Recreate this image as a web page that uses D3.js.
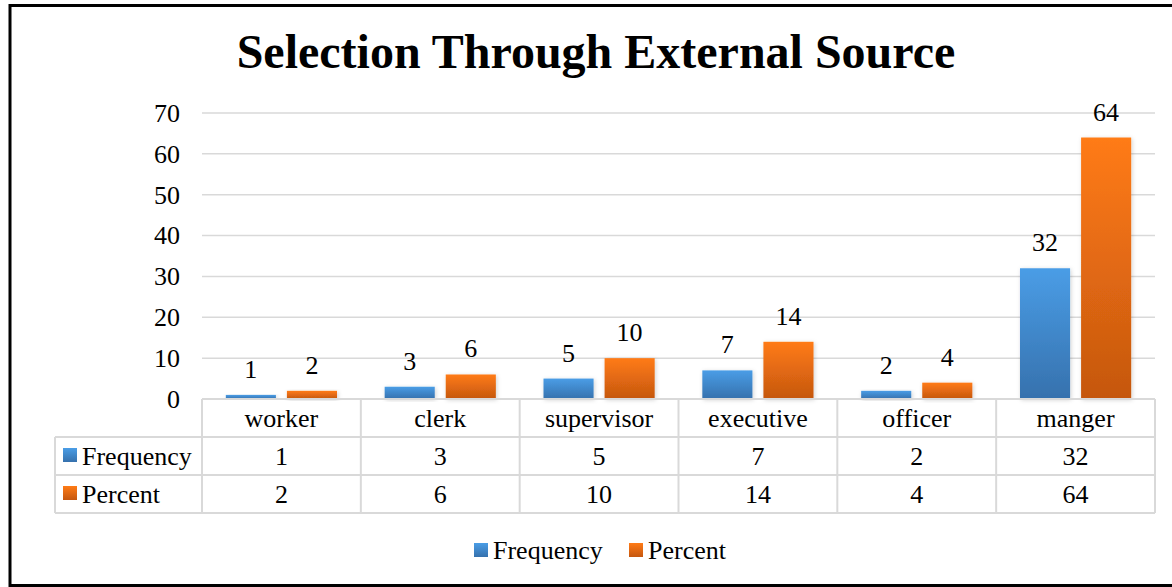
<!DOCTYPE html>
<html>
<head>
<meta charset="utf-8">
<script src="https://cdn.jsdelivr.net/npm/d3@7"></script>
<style>
  html, body { margin: 0; padding: 0; background: #fff; }
  svg { display: block; }
  text { font-family: "Liberation Serif", "Times New Roman", serif; fill: #000; }
</style>
</head>
<body>
<svg id="chart" width="1172" height="587"></svg>
<script>
// Chart data
const categories = ["worker", "clerk", "supervisor", "executive", "officer", "manger"];
const frequency = [1, 3, 5, 7, 2, 32];
const percent = [2, 6, 10, 14, 4, 64];
const seriesNames = ["Frequency", "Percent"];
const yTicks = [0, 10, 20, 30, 40, 50, 60, 70];
const titleText = "Selection Through External Source";

const W = 1172, H = 587;
const svg = d3.select("#chart");

// Frame
svg.append("rect")
  .attr("x", 10).attr("y", 5.5)
  .attr("width", W + 10).attr("height", 580)
  .attr("fill", "#fff").attr("stroke", "#000").attr("stroke-width", 3);

// Gradients and shadow
const defs = svg.append("defs");
const gradSpecs = [
  { id: "g-freq", top: "#4a9de6", bottom: "#3671ad" },
  { id: "g-pct", top: "#ff7b16", bottom: "#c5570f" }
];
gradSpecs.forEach(g => {
  const lg = defs.append("linearGradient").attr("id", g.id)
    .attr("x1", 0).attr("y1", 0).attr("x2", 0).attr("y2", 1);
  lg.append("stop").attr("offset", "0%").attr("stop-color", g.top);
  lg.append("stop").attr("offset", "100%").attr("stop-color", g.bottom);
});
const f = defs.append("filter").attr("id", "shadow")
  .attr("x", "-20%").attr("y", "-20%").attr("width", "140%").attr("height", "140%");
f.append("feDropShadow").attr("dx", 1).attr("dy", 1).attr("stdDeviation", 2)
  .attr("flood-color", "#000").attr("flood-opacity", 0.18);

// Scales
const plotLeft = 202, plotRight = 1155, plotTop = 113, plotBottom = 399;
const x0 = d3.scaleBand().domain(categories).range([plotLeft, plotRight]).padding(0);
const x1 = d3.scaleBand().domain(seriesNames).range([0, x0.bandwidth()])
  .paddingInner(0.18).paddingOuter(0.39);
const y = d3.scaleLinear().domain([0, 70]).range([plotBottom, plotTop]);

const grey = "#d9d9d9";

// Gridlines
svg.append("g").selectAll("line").data(yTicks.filter(t => t > 0)).join("line")
  .attr("x1", plotLeft).attr("x2", plotRight)
  .attr("y1", d => y(d)).attr("y2", d => y(d))
  .attr("stroke", grey).attr("stroke-width", 1.5);

// Y axis labels
const yAxis = d3.axisLeft(y).tickValues(yTicks).tickSize(0).tickPadding(0);
const yg = svg.append("g").attr("transform", `translate(180,0)`).call(yAxis);
yg.select(".domain").remove();
yg.selectAll("text")
  .attr("font-size", 26)
  .attr("font-family", "'Liberation Serif', 'Times New Roman', serif")
  .attr("fill", "#000");

// Bars
const rows = categories.map((c, i) => ({ cat: c, values: [frequency[i], percent[i]] }));
const groups = svg.append("g").selectAll("g").data(rows).join("g")
  .attr("transform", d => `translate(${x0(d.cat)},0)`);

groups.selectAll("rect").data(d => d.values.map((v, k) => ({ key: seriesNames[k], v, k })))
  .join("rect")
  .attr("x", d => x1(d.key))
  .attr("width", x1.bandwidth())
  .attr("y", d => y(d.v))
  .attr("height", d => y(0) - y(d.v))
  .attr("fill", d => `url(#${gradSpecs[d.k].id})`)
  .attr("filter", "url(#shadow)");

// Value labels
groups.selectAll("text.val").data(d => d.values.map((v, k) => ({ key: seriesNames[k], v, k })))
  .join("text").attr("class", "val")
  .attr("x", d => x1(d.key) + x1.bandwidth() / 2)
  .attr("y", d => y(d.v) - 17)
  .attr("text-anchor", "middle")
  .attr("font-size", 26)
  .text(d => d.v);

// Data table
const tableLeft = 55;
const rowH = 38;
const rTop = [plotBottom, plotBottom + rowH, plotBottom + 2 * rowH, plotBottom + 3 * rowH];
const table = svg.append("g");
const tLine = (x1_, y1_, x2_, y2_) => table.append("line")
  .attr("x1", x1_).attr("y1", y1_).attr("x2", x2_).attr("y2", y2_)
  .attr("stroke", grey).attr("stroke-width", 2);

tLine(plotLeft, rTop[0], plotRight, rTop[0]);
for (let r = 1; r <= 3; r++) tLine(tableLeft, rTop[r], plotRight, rTop[r]);
tLine(tableLeft, rTop[1], tableLeft, rTop[3]);
categories.forEach(c => tLine(x0(c), rTop[0], x0(c), rTop[3]));
tLine(plotRight, rTop[0], plotRight, rTop[3]);

// Category header
table.selectAll("text.cat").data(categories).join("text").attr("class", "cat")
  .attr("x", d => x0(d) + x0.bandwidth() / 2)
  .attr("y", (rTop[0] + rTop[1]) / 2)
  .attr("dy", "0.35em")
  .attr("text-anchor", "middle")
  .attr("font-size", 26)
  .text(d => d);

// Series rows
const seriesRows = [frequency, percent];
seriesRows.forEach((vals, k) => {
  const cy = (rTop[k + 1] + rTop[k + 2]) / 2;
  table.append("rect")
    .attr("x", 63).attr("y", cy - 8).attr("width", 14).attr("height", 14)
    .attr("fill", `url(#${gradSpecs[k].id})`);
  table.append("text")
    .attr("x", 82).attr("y", cy).attr("dy", "0.35em")
    .attr("font-size", 26)
    .text(seriesNames[k]);
  table.selectAll(`text.v${k}`).data(vals).join("text").attr("class", `v${k}`)
    .attr("x", (d, i) => x0(categories[i]) + x0.bandwidth() / 2)
    .attr("y", cy).attr("dy", "0.35em")
    .attr("text-anchor", "middle")
    .attr("font-size", 26)
    .text(d => d);
});

// Legend
const legend = svg.append("g");
const legendItems = [
  { name: seriesNames[0], x: 474 },
  { name: seriesNames[1], x: 629 }
];
legendItems.forEach((it, k) => {
  legend.append("rect")
    .attr("x", it.x).attr("y", 543).attr("width", 14).attr("height", 14)
    .attr("fill", `url(#${gradSpecs[k].id})`);
  legend.append("text")
    .attr("x", it.x + 19).attr("y", 550).attr("dy", "0.35em")
    .attr("font-size", 26)
    .text(it.name);
});

// Title
svg.append("text")
  .attr("x", 596).attr("y", 68)
  .attr("text-anchor", "middle")
  .attr("font-size", 48)
  .attr("font-weight", "bold")
  .text(titleText);
</script>
</body>
</html>
